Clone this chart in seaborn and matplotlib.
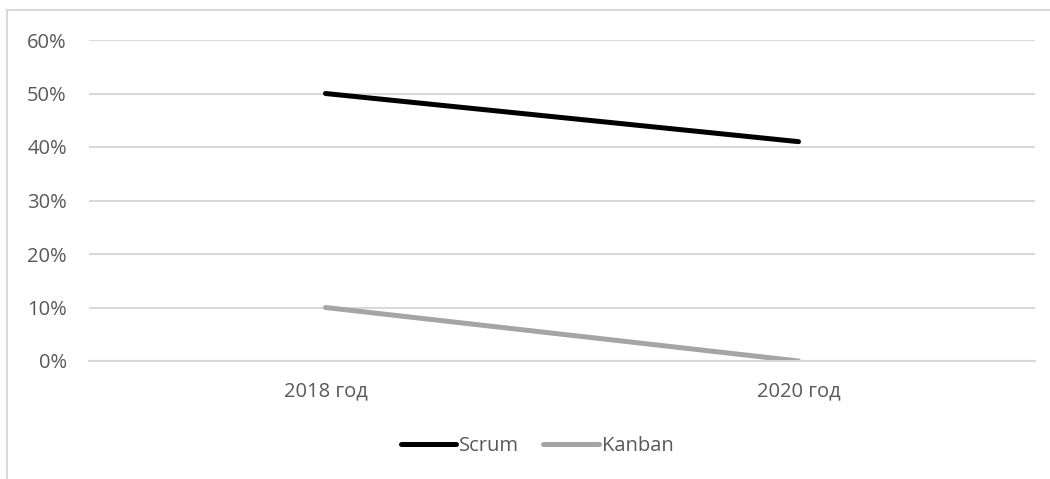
import pandas as pd
import seaborn as sns
import matplotlib.pyplot as plt
from matplotlib.patches import Rectangle
from matplotlib.lines import Line2D
from matplotlib.ticker import PercentFormatter

sns.set_theme(style="white")
plt.rcParams['font.family'] = ['Open Sans', 'DejaVu Sans']

# данные
years = ['2018 год', '2020 год']
scrum = [0.50, 0.41]
kanban = [0.10, 0.00]

df = pd.DataFrame({
    'Год': years * 2,
    'Доля': scrum + kanban,
    'Метод': ['Scrum'] * 2 + ['Kanban'] * 2,
})

fig = plt.figure(figsize=(10.5, 4.79), dpi=100)
ax = fig.add_axes([89 / 1050, 1 - 361 / 479, (1035 - 89) / 1050, (361 - 40) / 479])

sns.lineplot(data=df, x='Год', y='Доля', hue='Метод',
             palette={'Scrum': '#000000', 'Kanban': '#A5A5A5'},
             linewidth=3.6, ax=ax, legend=False, solid_capstyle='round')

ax.set_xlim(-0.5, 1.5)
ax.set_ylim(0, 0.6)
ax.set_yticks([0, 0.1, 0.2, 0.3, 0.4, 0.5, 0.6])
ax.yaxis.set_major_formatter(PercentFormatter(1.0, decimals=0))
ax.grid(axis='y', color='#D9D9D9', linewidth=1.5)
ax.set_axisbelow(True)
for s in ax.spines.values():
    s.set_visible(False)
ax.spines['bottom'].set_visible(True)
ax.spines['bottom'].set_color('#D9D9D9')
ax.spines['bottom'].set_linewidth(1.5)
ax.tick_params(axis='both', length=0, labelsize=14.5, colors='#595959')
ax.tick_params(axis='y', pad=16)
ax.tick_params(axis='x', pad=15)
ax.set_xlabel('')
ax.set_ylabel('')

# легенда
handles = [Line2D([], [], color='#000000', lw=3.6, solid_capstyle='round'),
           Line2D([], [], color='#A5A5A5', lw=3.6, solid_capstyle='round')]
fig.legend(handles, ['Scrum', 'Kanban'], loc='center', bbox_to_anchor=(537 / 1050, 1 - 446 / 479),
           ncol=2, frameon=False, fontsize=14.5, labelcolor='#595959',
           handlelength=2.75, handletextpad=0.15, columnspacing=1.2)

# рамка диаграммы
fig.patches.append(Rectangle((7 / 1050, -0.1), 1.2, 1 - 10 / 479 + 0.1,
                             transform=fig.transFigure, fill=False,
                             edgecolor='#D9D9D9', linewidth=1.5))

fig.savefig('out.png', dpi=100)
